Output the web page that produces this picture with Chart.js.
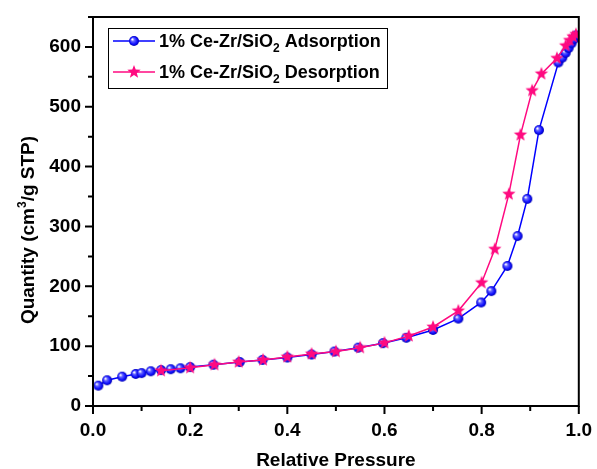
<!DOCTYPE html>
<html>
<head>
<meta charset="utf-8">
<script src="https://cdn.jsdelivr.net/npm/chart.js@4/dist/chart.umd.min.js"></script>
<style>
  html, body { margin: 0; padding: 0; background: #fff; }
  #wrap { width: 597px; height: 469px; }
</style>
</head>
<body>
<div id="wrap"><canvas id="bet"></canvas></div>
<script>
// Relative pressure / quantity
const adsP = [0.011, 0.029, 0.06, 0.088, 0.10, 0.119, 0.14, 0.16, 0.18, 0.20, 0.248, 0.302, 0.349, 0.40, 0.45, 0.497,
              0.546, 0.597, 0.645, 0.70, 0.752, 0.799, 0.82, 0.853, 0.874, 0.894, 0.918, 0.958, 0.966, 0.973, 0.979, 0.985, 0.99, 0.994];
const adsQ = [34, 43, 49, 53.5, 55, 58, 60, 61.5, 63, 65, 69, 73.5, 77, 81, 86, 91,
              97.5, 105, 114, 127, 146, 173, 192, 234, 284, 346, 461, 574, 582, 590, 598, 606, 613, 619];

const desP = [0.994, 0.988, 0.981, 0.973, 0.955, 0.923, 0.904, 0.88, 0.856, 0.827, 0.80, 0.752, 0.70, 0.65,
              0.60, 0.55, 0.50, 0.45, 0.40, 0.35, 0.30, 0.25, 0.20, 0.14];
const desQ = [621, 617, 611, 602, 581, 555, 527, 453, 354, 262, 206, 159, 132, 117,
              105.5, 97.5, 91, 87, 82, 77, 73.5, 69, 64, 59];

const xTicks = ['0.0', '0.2', '0.4', '0.6', '0.8', '1.0'];
const yTicks = [0, 100, 200, 300, 400, 500, 600];

const BLUE = '#0000ff';
const PINK = '#ff0a80';
const FONT = '"Liberation Sans", Arial, sans-serif';

// shaded blue ball marker
function makeBall(r) {
    const c = document.createElement('canvas');
    c.width = c.height = r * 2 + 2;
    const g = c.getContext('2d');
    const cx = r + 1, cy = r + 1;
    const grad = g.createRadialGradient(cx - r * 0.35, cy - r * 0.35, 0.5, cx, cy, r);
    grad.addColorStop(0, '#ffffff');
    grad.addColorStop(0.25, '#6a6aff');
    grad.addColorStop(0.7, '#1010ff');
    grad.addColorStop(1, '#0000b0');
    g.fillStyle = grad;
    g.beginPath();
    g.arc(cx, cy, r, 0, Math.PI * 2);
    g.fill();
    return c;
}

// filled five point star marker
function makeStar(r) {
    const c = document.createElement('canvas');
    c.width = c.height = r * 2 + 2;
    const g = c.getContext('2d');
    const cx = r + 1, cy = r + 1;
    g.fillStyle = PINK;
    g.beginPath();
    for (let i = 0; i < 10; i++) {
        const rr = i % 2 === 0 ? r : r * 0.42;
        const a = -Math.PI / 2 + i * Math.PI / 5;
        const px = cx + rr * Math.cos(a), py = cy + rr * Math.sin(a);
        if (i === 0) g.moveTo(px, py); else g.lineTo(px, py);
    }
    g.closePath();
    g.fill();
    return c;
}

const ball = makeBall(5);
const star = makeStar(7);

const adsData = adsP.map((p, i) => ({ x: p, y: adsQ[i] }));
const desData = desP.map((p, i) => ({ x: p, y: desQ[i] }));

// frame, ticks, axis titles and legend
const decor = {
    id: 'decor',
    afterDraw(chart) {
        const { ctx, chartArea: a, scales } = chart;
        ctx.save();
        ctx.strokeStyle = '#000';
        ctx.lineWidth = 2;
        ctx.strokeRect(a.left, a.top, a.right - a.left, a.bottom - a.top);

        // ticks: major 8px, minor 5px, pointing out
        ctx.beginPath();
        for (let v = 0; v <= 10; v++) {
            const x = scales.x.getPixelForValue(v / 10);
            const len = v % 2 === 0 ? 8 : 5;
            ctx.moveTo(x, a.bottom);
            ctx.lineTo(x, a.bottom + len);
        }
        for (let v = 0; v <= 650; v += 50) {
            const y = scales.y.getPixelForValue(v);
            const len = v % 100 === 0 ? 8 : 5;
            ctx.moveTo(a.left, y);
            ctx.lineTo(a.left - len, y);
        }
        ctx.stroke();

        ctx.fillStyle = '#000';
        ctx.textBaseline = 'alphabetic';

        // x title
        ctx.font = 'bold 19px ' + FONT;
        ctx.textAlign = 'center';
        ctx.fillText('Relative Pressure', (a.left + a.right) / 2, 466);

        // y title with superscript
        ctx.save();
        ctx.translate(34, 230);
        ctx.rotate(-Math.PI / 2);
        const p1 = 'Quantity (cm', p3 = '/g STP)';
        ctx.font = 'bold 19px ' + FONT;
        const w1 = ctx.measureText(p1).width;
        const w3 = ctx.measureText(p3).width;
        ctx.font = 'bold 12px ' + FONT;
        const w2 = ctx.measureText('3').width;
        let x0 = -(w1 + w2 + w3) / 2;
        ctx.textAlign = 'left';
        ctx.font = 'bold 19px ' + FONT;
        ctx.fillText(p1, x0, 0);
        ctx.font = 'bold 12px ' + FONT;
        ctx.fillText('3', x0 + w1, -8);
        ctx.font = 'bold 19px ' + FONT;
        ctx.fillText(p3, x0 + w1 + w2, 0);
        ctx.restore();

        // legend
        ctx.lineWidth = 1;
        ctx.strokeStyle = '#000';
        ctx.strokeRect(108.5, 28.5, 279, 60);
        const rows = [
            { color: BLUE, img: ball, label: 'Adsorption', y: 41 },
            { color: PINK, img: star, label: 'Desorption', y: 72 }
        ];
        rows.forEach(r => {
            ctx.strokeStyle = r.color;
            ctx.lineWidth = 1.5;
            ctx.beginPath();
            ctx.moveTo(113, r.y);
            ctx.lineTo(155, r.y);
            ctx.stroke();
            ctx.drawImage(r.img, 134 - r.img.width / 2, r.y - r.img.height / 2);
            let tx = 159;
            const base = r.y + 6;
            ctx.fillStyle = '#000';
            ctx.textAlign = 'left';
            ctx.font = 'bold 18px ' + FONT;
            ctx.fillText('1% Ce-Zr/SiO', tx, base);
            tx += ctx.measureText('1% Ce-Zr/SiO').width;
            ctx.font = 'bold 12px ' + FONT;
            ctx.fillText('2', tx, base + 5);
            tx += ctx.measureText('2').width;
            ctx.font = 'bold 18px ' + FONT;
            ctx.fillText(' ' + r.label, tx, base);
        });
        ctx.restore();
    }
};

new Chart(document.getElementById('bet'), {
    type: 'scatter',
    data: {
        datasets: [
            {
                label: '1% Ce-Zr/SiO2 Adsorption',
                data: adsData,
                showLine: true,
                borderColor: BLUE,
                borderWidth: 1.5,
                pointStyle: ball,
                order: 2
            },
            {
                label: '1% Ce-Zr/SiO2 Desorption',
                data: desData,
                showLine: true,
                borderColor: PINK,
                borderWidth: 1.5,
                pointStyle: star,
                order: 1
            }
        ]
    },
    plugins: [decor],
    options: {
        responsive: true,
        maintainAspectRatio: false,
        animation: false,
        layout: { padding: { top: 17, right: 18, left: 0, bottom: 0 } },
        plugins: {
            legend: { display: false },
            tooltip: { enabled: false }
        },
        scales: {
            x: {
                type: 'linear',
                min: 0,
                max: 1,
                grid: { display: true, drawOnChartArea: false, drawTicks: true, tickLength: 8, color: 'transparent' },
                border: { display: false },
                ticks: {
                    stepSize: 0.1,
                    padding: 5,
                    color: '#000',
                    font: { family: FONT, size: 19, weight: 'bold' },
                    maxRotation: 0,
                    autoSkip: false,
                    callback: v => {
                        const k = Math.round(v * 10);
                        return k % 2 === 0 ? xTicks[k / 2] : '';
                    }
                },
                afterFit: s => { s.height = 63; }
            },
            y: {
                min: 0,
                max: 650,
                grid: { display: true, drawOnChartArea: false, drawTicks: true, tickLength: 8, color: 'transparent' },
                border: { display: false },
                ticks: {
                    stepSize: 50,
                    padding: 4,
                    color: '#000',
                    font: { family: FONT, size: 19, weight: 'bold' },
                    autoSkip: false,
                    callback: v => (yTicks.includes(v) ? String(v) : '')
                },
                afterFit: s => { s.width = 93; }
            }
        }
    }
});
</script>
</body>
</html>
